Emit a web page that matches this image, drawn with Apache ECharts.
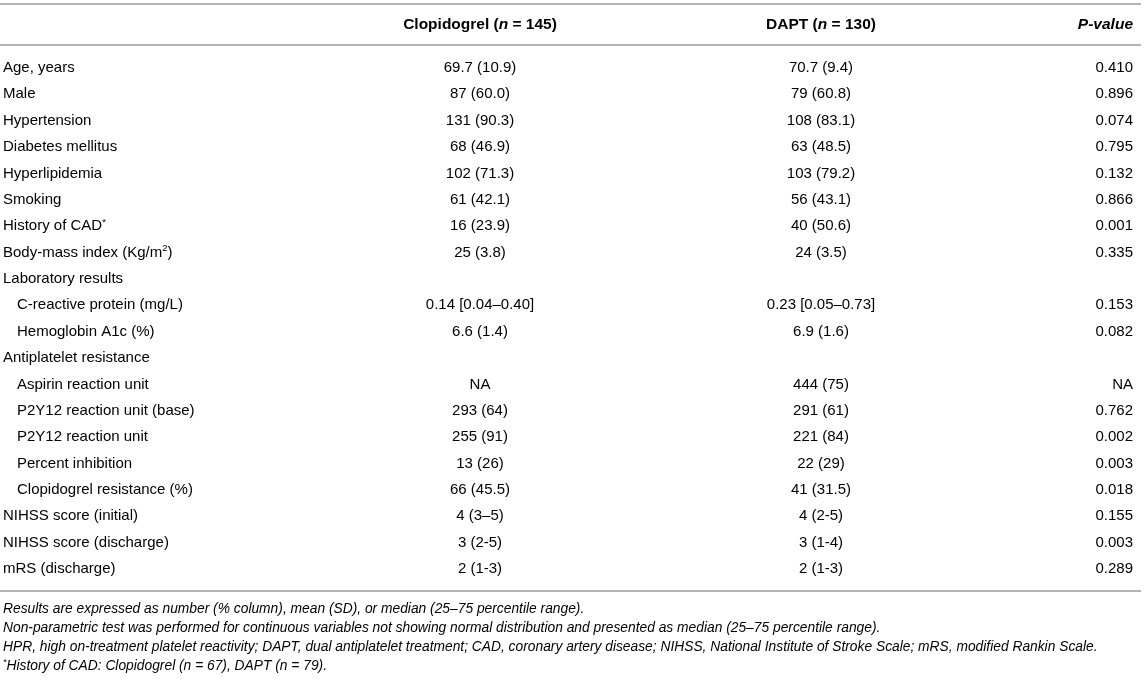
<!DOCTYPE html>
<html>
<head>
<meta charset="utf-8">
<script src="https://cdn.jsdelivr.net/npm/echarts@6/dist/echarts.min.js"></script>
<style>
  html, body { margin: 0; padding: 0; background: #fff; }
  #main { width: 1145px; height: 680px; }
</style>
</head>
<body>
<div id="main"></div>
<script>
// ---- table data ----
// row labels use rich markup: {t|..} normal, {s|..} superscript
const rowLabels = [
  '{t|Age, years}',
  '{t|Male}',
  '{t|Hypertension}',
  '{t|Diabetes mellitus}',
  '{t|Hyperlipidemia}',
  '{t|Smoking}',
  '{t|History of CAD}{s|*}',
  '{t|Body-mass index (Kg/m}{s|2}{t|)}',
  '{t|Laboratory results}',
  '{t|C-reactive protein (mg/L)}',
  '{t|Hemoglobin A1c (%)}',
  '{t|Antiplatelet resistance}',
  '{t|Aspirin reaction unit}',
  '{t|P2Y12 reaction unit (base)}',
  '{t|P2Y12 reaction unit}',
  '{t|Percent inhibition}',
  '{t|Clopidogrel resistance (%)}',
  '{t|NIHSS score (initial)}',
  '{t|NIHSS score (discharge)}',
  '{t|mRS (discharge)}'
];
// 1 = sub item (indented)
const rowIndent = [0, 0, 0, 0, 0, 0, 0, 0, 0, 1, 1, 0, 1, 1, 1, 1, 1, 0, 0, 0];

const clopidogrel = [
  '69.7 (10.9)', '87 (60.0)', '131 (90.3)', '68 (46.9)', '102 (71.3)', '61 (42.1)',
  '16 (23.9)', '25 (3.8)', '', '0.14 [0.04–0.40]', '6.6 (1.4)', '',
  'NA', '293 (64)', '255 (91)', '13 (26)', '66 (45.5)', '4 (3–5)', '3 (2-5)', '2 (1-3)'
];
const dapt = [
  '70.7 (9.4)', '79 (60.8)', '108 (83.1)', '63 (48.5)', '103 (79.2)', '56 (43.1)',
  '40 (50.6)', '24 (3.5)', '', '0.23 [0.05–0.73]', '6.9 (1.6)', '',
  '444 (75)', '291 (61)', '221 (84)', '22 (29)', '41 (31.5)', '4 (2-5)', '3 (1-4)', '2 (1-3)'
];
const pValues = [
  '0.410', '0.896', '0.074', '0.795', '0.132', '0.866', '0.001', '0.335', '', '0.153', '0.082', '',
  'NA', '0.762', '0.002', '0.003', '0.018', '0.155', '0.003', '0.289'
];

const headers = [
  '',
  '{b|Clopidogrel (}{bi|n}{b| = 145)}',
  '{b|DAPT (}{bi|n}{b| = 130)}',
  '{bi|P-value}'
];

const footnotes = [
  '{i|Results are expressed as number (% column), mean (SD), or median (25–75 percentile range).}',
  '{i|Non-parametric test was performed for continuous variables not showing normal distribution and presented as median (25–75 percentile range).}',
  '{i|HPR, high on-treatment platelet reactivity; DAPT, dual antiplatelet treatment; CAD, coronary artery disease; NIHSS, National Institute of Stroke Scale; mRS, modified Rankin Scale.}',
  '{is|*}{i|History of CAD: Clopidogrel (n = 67), DAPT (n = 79).}'
];

// ---- layout ----
const W = 1145;
const colX = [3, 480, 821, 1133];          // anchor of each column
const colAlign = ['left', 'center', 'center', 'right'];
const indentPx = 14;
const FONT = '"Liberation Sans", Arial, Helvetica, sans-serif';
const FS = 15;
const INK = '#262626';
const RULE = '#b4b4b4';

const rich = {
  t: { fontSize: FS, fontFamily: FONT, color: INK, lineHeight: 18 },
  s: { fontSize: 9.5, fontFamily: FONT, color: INK, verticalAlign: 'top', lineHeight: 18 },
  b: { fontSize: 15.5, fontFamily: FONT, color: INK, fontWeight: 'bold', lineHeight: 18 },
  bi: { fontSize: 15.5, fontFamily: FONT, color: INK, fontWeight: 'bold', fontStyle: 'italic', lineHeight: 18 },
  i: { fontSize: 13.8, fontFamily: FONT, color: INK, fontStyle: 'italic', lineHeight: 17 },
  is: { fontSize: 9, fontFamily: FONT, color: INK, fontStyle: 'italic', verticalAlign: 'top', lineHeight: 17 }
};

const rowIds = rowLabels.map((_, i) => String(i));
const cols = [rowLabels, clopidogrel, dapt, pValues];

let cells = [];
rowIds.forEach((id, r) => {
  cols.forEach((arr, c) => {
    if (arr[r] !== '') cells.push({ value: [c, r], text: c === 0 ? arr[r] : '{t|' + arr[r] + '}' });
  });
});

const chart = echarts.init(document.getElementById('main'), null, { renderer: 'canvas' });

const option = {
  backgroundColor: '#fff',
  animation: false,
  grid: { left: 0, right: 0, top: 54.8, bottom: 97.8 },
  xAxis: { type: 'value', min: 0, max: W, show: false },
  yAxis: { type: 'category', data: rowIds, inverse: true, show: false },
  series: [{
    type: 'custom',
    coordinateSystem: 'cartesian2d',
    data: cells,
    renderItem(params, api) {
      const c = api.value(0), r = api.value(1);
      const x0 = colX[c] + (c === 0 && rowIndent[r] ? indentPx : 0);
      const pt = api.coord([x0, r]);
      return {
        type: 'text',
        x: pt[0],
        y: pt[1],
        style: {
          text: cells[params.dataIndex].text,
          rich: rich,
          align: colAlign[c],
          verticalAlign: 'middle'
        }
      };
    }
  }],
  graphic: [
    // rules
    { type: 'line', shape: { x1: 0, y1: 4, x2: 1141, y2: 4 }, style: { stroke: RULE, lineWidth: 2 } },
    { type: 'line', shape: { x1: 0, y1: 45, x2: 1141, y2: 45 }, style: { stroke: RULE, lineWidth: 2 } },
    { type: 'line', shape: { x1: 0, y1: 591, x2: 1141, y2: 591 }, style: { stroke: RULE, lineWidth: 2 } }
  ]
    .concat(headers.map((h, c) => ({
      type: 'text', x: colX[c], y: 25,
      style: { text: h, rich: rich, align: colAlign[c], verticalAlign: 'middle' }
    })))
    .concat(footnotes.map((f, k) => ({
      type: 'text', x: 3, y: 609 + k * 19,
      style: { text: f, rich: rich, align: 'left', verticalAlign: 'middle' }
    })))
};

chart.setOption(option);
</script>
</body>
</html>
